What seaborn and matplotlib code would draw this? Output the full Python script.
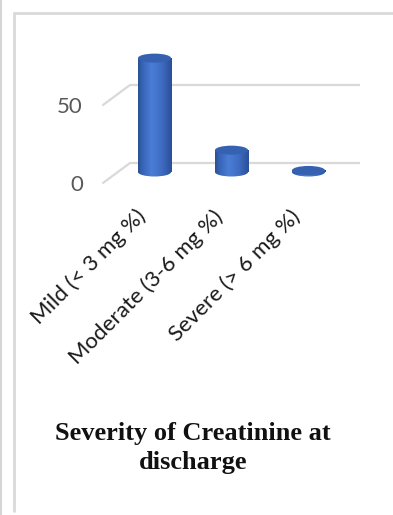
import numpy as np
import pandas as pd
import matplotlib
matplotlib.use("Agg")
import matplotlib.pyplot as plt
from matplotlib.patches import Ellipse
from matplotlib.lines import Line2D
from matplotlib.colors import LinearSegmentedColormap
import seaborn as sns

# ---- data ----
categories = ["Mild (< 3 mg %)", "Moderate (3-6 mg %)", "Severe (> 6 mg %)"]
values = [73, 14, 1]
tick_values = [0, 50]
tick_labels = ["0", "50"]
title = "Severity of Creatinine at\ndischarge"

df = pd.DataFrame({"category": categories, "value": values})

sns.set_theme(style="white")
plt.rcParams["font.family"] = ["Lato", "DejaVu Sans"]

W, H = 393, 515
fig = plt.figure(figsize=(W / 100, H / 100), dpi=100)
fig.patch.set_facecolor("white")

# axes placed by pixel box; limits chosen so one category step = 77 px and 1 unit = 1.56 px
ax_l, ax_r, ax_t, ax_b = 90, 370, 30, 200
cat0_px, step_px = 154.5, 77.0
zero_px, unit_px = 172.0, 1.56
ax = fig.add_axes([ax_l / W, 1 - ax_b / H, (ax_r - ax_l) / W, (ax_b - ax_t) / H])
XLIM = ((ax_l - cat0_px) / step_px, (ax_r - cat0_px) / step_px)
YLIM = ((zero_px - ax_b) / unit_px, (zero_px - ax_t) / unit_px)

# floor depth of the pseudo-3D plot area
back_x = (130 - cat0_px) / step_px
front_x = (103 - cat0_px) / step_px
right_x = (360 - cat0_px) / step_px
back_dy = 9 / unit_px
front_dy = -11 / unit_px
grid_c = "#d9d9d9"
for v, lab in zip(tick_values, tick_labels):
    ax.plot([back_x, right_x], [v + back_dy, v + back_dy], color=grid_c, lw=1.6,
            zorder=1, solid_capstyle="butt", clip_on=False)
    ax.plot([front_x, back_x], [v + front_dy, v + back_dy], color=grid_c, lw=1.6,
            zorder=1, clip_on=False)
    ax.text(front_x - 20 / step_px, v + front_dy - 2 / unit_px, lab, ha="right",
            va="center", fontsize=16, color="#595959", clip_on=False)

# bar bodies
sns.barplot(data=df, x="category", y="value", width=0.43, color="#4472c4",
            linewidth=0, ax=ax, zorder=3)

shade = LinearSegmentedColormap.from_list(
    "cyl", [(0.0, "#29508f"), (0.12, "#3563b5"), (0.4, "#4b7dd6"),
            (0.7, "#3f6cc2"), (1.0, "#2a4f96")])
grad = np.linspace(0, 1, 256).reshape(1, -1)
cap_h = 9 / unit_px

for p in list(ax.patches):
    x0, w, h = p.get_x(), p.get_width(), p.get_height()
    xc = x0 + w / 2
    p.set_alpha(0)
    # rounded bottom
    bottom = Ellipse((xc, 0), w, cap_h, facecolor="none", edgecolor="none")
    ax.add_patch(bottom)
    body = plt.Rectangle((x0, 0), w, h, facecolor="none", edgecolor="none")
    ax.add_patch(body)
    for clip in (body, bottom):
        im = ax.imshow(grad, cmap=shade, aspect="auto", zorder=3,
                       extent=[x0, x0 + w, -cap_h, h], interpolation="bilinear")
        im.set_clip_path(clip)
    # top cap
    ax.add_patch(Ellipse((xc, h), w, cap_h, facecolor="#3561b0",
                         edgecolor="none", zorder=4))

ax.set_xlim(*XLIM)
ax.set_ylim(*YLIM)
ax.axis("off")

# rotated category labels
for i, lab in enumerate(categories):
    ax.text(i - 19 / step_px, (zero_px - 206) / unit_px, lab, rotation=45,
            rotation_mode="anchor", ha="right", va="top", fontsize=16,
            color="#1a1a1a", clip_on=False)

fig.text(193 / W, 1 - 448 / H, title, ha="center", va="center",
         multialignment="center", fontsize=19, fontweight="bold",
         family=["Liberation Serif", "DejaVu Serif"], color="#111111",
         linespacing=1.3)

# frame lines
fig.add_artist(Line2D([1 / W, 1 / W], [0, 1], transform=fig.transFigure,
                      color="#d6d6d6", lw=1.5))
fig.add_artist(Line2D([14 / W, 14 / W], [1 - 511 / H, 1 - 12.5 / H],
                      transform=fig.transFigure, color="#d9d9d9", lw=2))
fig.add_artist(Line2D([14 / W, 1], [1 - 12.5 / H, 1 - 12.5 / H],
                      transform=fig.transFigure, color="#d9d9d9", lw=2))

fig.savefig("out.png", dpi=100)
